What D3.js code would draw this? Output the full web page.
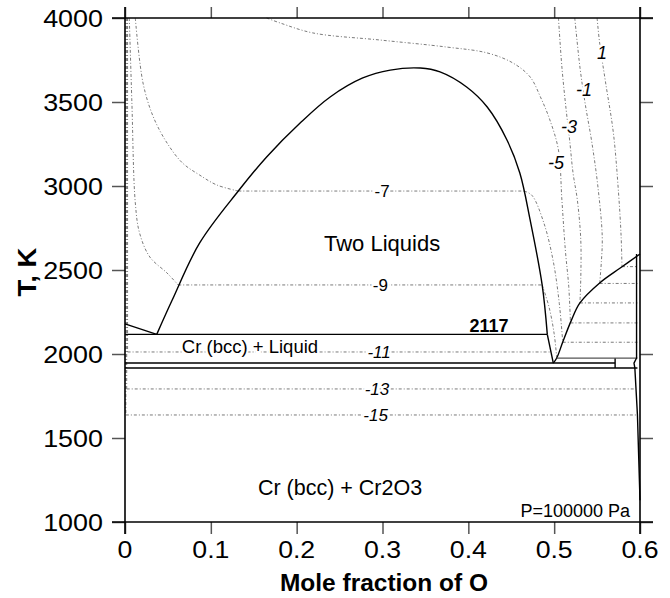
<!DOCTYPE html>
<html>
<head>
<meta charset="utf-8">
<script src="https://cdn.jsdelivr.net/npm/d3@7"></script>
<style>
  html, body { margin: 0; padding: 0; background: #fff; }
  svg { display: block; font-family: "Liberation Sans", Arial, Helvetica, sans-serif; }
</style>
</head>
<body>
<svg id="chart" width="670" height="598"></svg>
<script>
// ---- Axis ticks ----
const xTicks = [0, 0.1, 0.2, 0.3, 0.4, 0.5, 0.6];
const xTickLabels = ["0", "0.1", "0.2", "0.3", "0.4", "0.5", "0.6"];
const yTicks = [1000, 1500, 2000, 2500, 3000, 3500, 4000];
const yTickLabels = ["1000", "1500", "2000", "2500", "3000", "3500", "4000"];

// ---- Phase boundaries: [mole fraction O, T (K)] ----
const miscibilityGap = [
  [0.037, 2117], [0.055, 2321], [0.087, 2661], [0.132, 2970], [0.165, 3173],
  [0.204, 3375], [0.239, 3530], [0.277, 3643], [0.309, 3690], [0.344, 3702],
  [0.367, 3679], [0.398, 3589], [0.422, 3470], [0.445, 3274], [0.460, 3077],
  [0.472, 2798], [0.486, 2411], [0.492, 2117]
];
const gapTail = [[0.492, 2117], [0.499, 1946]];
const crLiquidus = [[0, 2179], [0.037, 2117]];
const oxideLiquidus = [
  [0.499, 1946], [0.503, 1976], [0.510, 2071], [0.520, 2200], [0.530, 2304],
  [0.553, 2423], [0.577, 2512], [0.600, 2595]
];
const monotectic = [[0, 2117], [0.492, 2117]];
const eutectic = [[0, 1946], [0.571, 1946]];
const eutectoid = [[0, 1917], [0.597, 1917]];
const cr3o4Line = [[0.571, 1917], [0.571, 1976]];
const peritectic = [[0.503, 1976], [0.597, 1976]];
const cr2o3Boundary = [
  [0.596, 2595], [0.596, 1976], [0.593, 1946], [0.594, 1917], [0.597, 1640], [0.600, 1130]
];

// ---- Oxygen isobars, log10(pO2), each as a list of pieces ----
const isobarP1 = [
  [[0.550, 4000], [0.553, 3851], [0.560, 3613], [0.569, 3315], [0.575, 2958], [0.578, 2700], [0.579, 2520]],
  [[0.579, 2520], [0.597, 2520]]
];
const isobarM1 = [
  [[0.524, 4000], [0.530, 3708], [0.536, 3494], [0.544, 3256], [0.551, 2994], [0.556, 2700], [0.555, 2550], [0.553, 2420]],
  [[0.553, 2420], [0.597, 2420]]
];
const isobarM3 = [
  [[0.505, 4000], [0.509, 3708], [0.514, 3452], [0.518, 3274], [0.522, 3077], [0.527, 2917], [0.531, 2679], [0.531, 2450], [0.530, 2304]],
  [[0.530, 2304], [0.597, 2304]]
];
const isobarM5 = [
  [[0.165, 4000], [0.181, 3970], [0.219, 3911], [0.297, 3869], [0.375, 3827], [0.422, 3792],
   [0.452, 3732], [0.472, 3649], [0.484, 3530], [0.495, 3393], [0.505, 3214], [0.509, 2917],
   [0.513, 2620], [0.517, 2400], [0.519, 2185]],
  [[0.519, 2185], [0.597, 2185]]
];
const isobarM7 = [
  [[0.012, 4000], [0.021, 3613], [0.033, 3411], [0.049, 3256], [0.067, 3137], [0.087, 3065], [0.107, 3006], [0.132, 2970]],
  [[0.132, 2970], [0.465, 2970]],
  [[0.465, 2970], [0.474, 2945], [0.488, 2780], [0.499, 2550], [0.506, 2300], [0.510, 2070]],
  [[0.510, 2070], [0.597, 2070]]
];
const isobarM9 = [
  [[0.005, 4000], [0.008, 3500], [0.012, 2900], [0.017, 2720], [0.029, 2577], [0.049, 2482], [0.062, 2411]],
  [[0.062, 2411], [0.486, 2411]],
  [[0.486, 2411], [0.494, 2280], [0.500, 2120], [0.503, 1976]]
];
const isobarM11 = [
  [[0.003, 4000], [0.003, 2012]],
  [[0.003, 2012], [0.496, 2012]]
];
const isobarM13 = [
  [[0.002, 4000], [0.002, 1792]],
  [[0.002, 1792], [0.595, 1792]]
];
const isobarM15 = [
  [[0.001, 4000], [0.001, 1637]],
  [[0.001, 1637], [0.597, 1637]]
];

// Isobar labels: value text and where it sits on its line
const isobarLabelsUpper = [
  { text: "1",  x: 0.5557, t: 3792 },
  { text: "-1", x: 0.5348, t: 3577 },
  { text: "-3", x: 0.5173, t: 3357 },
  { text: "-5", x: 0.5022, t: 3137 }
];
const isobarLabelsLower = [
  { text: "-7",  x: 0.2995, t: 2970 },
  { text: "-9",  x: 0.2975, t: 2411 },
  { text: "-11", x: 0.2960, t: 2012 },
  { text: "-13", x: 0.2935, t: 1792 },
  { text: "-15", x: 0.2920, t: 1637 }
];

// Region and annotation labels
const twoLiquidLabel = { text: "Two Liquids", x: 0.2995, t: 2613 };
const twoPhaseLabel = { text: "Cr (bcc) + Liquid", x: 0.1456, t: 2006 };
const lowerRegionLabel = { text: "Cr (bcc) + Cr2O3", x: 0.2505, t: 1160 };
const invariantLabel = { text: "2117", x: 0.424, t: 2131 };
const pressureLabel = { text: "P=100000 Pa", x: 0.5884, t: 1030 };

// ---- Drawing ----
const svg = d3.select("#chart");
const x = d3.scaleLinear().domain([0, 0.6]).range([125, 640]);
const y = d3.scaleLinear().domain([1000, 4000]).range([522, 18]);

const smooth = d3.line().x(d => x(d[0])).y(d => y(d[1])).curve(d3.curveCatmullRom.alpha(0.5));
const straight = d3.line().x(d => x(d[0])).y(d => y(d[1]));

const plot = svg.append("g");

// isobars (dotted grey)
const isobars = [isobarP1, isobarM1, isobarM3, isobarM5, isobarM7, isobarM9, isobarM11, isobarM13, isobarM15];
isobars.forEach(pieces => {
  pieces.forEach(p => {
    plot.append("path")
      .attr("d", p.length > 2 ? smooth(p) : straight(p))
      .attr("fill", "none")
      .attr("stroke", "#7a7a7a")
      .attr("stroke-width", 1)
      .attr("stroke-dasharray", "3,2,1,2");
  });
});

// phase boundaries (solid)
const solid = (pts, curve, color, w) => plot.append("path")
  .attr("d", curve ? smooth(pts) : straight(pts))
  .attr("fill", "none")
  .attr("stroke", color || "#000")
  .attr("stroke-width", w || 1.4)
  .attr("stroke-linejoin", "round");

solid(miscibilityGap, true);
solid(gapTail, false);
solid(crLiquidus, false);
solid(oxideLiquidus, true);
solid(monotectic, false);
solid(eutectic, false);
solid(eutectoid, false);
solid(cr3o4Line, false);
solid(peritectic, false, "#555", 1.2);
solid(cr2o3Boundary, false);

// isobar labels
const haloText = (g, d, size, italic) => g.append("text")
  .attr("x", x(d.x)).attr("y", y(d.t))
  .attr("dy", "0.36em")
  .attr("text-anchor", "middle")
  .attr("font-size", size)
  .attr("font-style", italic ? "italic" : "normal")
  .attr("fill", "#000")
  .attr("stroke", "#fff").attr("stroke-width", 4)
  .attr("paint-order", "stroke")
  .text(d.text);

isobarLabelsUpper.forEach(d => haloText(plot, d, 18, true));
isobarLabelsLower.forEach(d => haloText(plot, d, 17, !(d.text === "-7" || d.text === "-9")));

// region labels
plot.append("text")
  .attr("x", x(twoLiquidLabel.x)).attr("y", y(twoLiquidLabel.t))
  .attr("text-anchor", "middle").attr("font-size", 22)
  .text(twoLiquidLabel.text);

plot.append("text")
  .attr("x", x(twoPhaseLabel.x)).attr("y", y(twoPhaseLabel.t))
  .attr("text-anchor", "middle").attr("font-size", 18.5)
  .attr("stroke", "#fff").attr("stroke-width", 4).attr("paint-order", "stroke")
  .text(twoPhaseLabel.text);

plot.append("text")
  .attr("x", x(lowerRegionLabel.x)).attr("y", y(lowerRegionLabel.t))
  .attr("text-anchor", "middle").attr("font-size", 21.5)
  .text(lowerRegionLabel.text);

plot.append("text")
  .attr("x", x(invariantLabel.x)).attr("y", y(invariantLabel.t))
  .attr("text-anchor", "middle").attr("font-size", 18).attr("font-weight", "bold")
  .text(invariantLabel.text);

plot.append("text")
  .attr("x", x(pressureLabel.x)).attr("y", y(pressureLabel.t))
  .attr("text-anchor", "end").attr("font-size", 18)
  .text(pressureLabel.text);

// ---- Frame and ticks ----
const frame = svg.append("g");
const tickStyle = g => {
  g.select(".domain").remove();
  g.selectAll(".tick line").attr("stroke", "#555").attr("stroke-width", 1.5);
};
frame.append("g").attr("transform", "translate(0,522)")
  .call(d3.axisBottom(x).tickValues(xTicks).tickSize(12).tickFormat("")).call(tickStyle);
frame.append("g").attr("transform", "translate(0,18)")
  .call(d3.axisTop(x).tickValues(xTicks).tickSize(11).tickFormat("")).call(tickStyle);
frame.append("g").attr("transform", "translate(125,0)")
  .call(d3.axisLeft(y).tickValues(yTicks).tickSize(13).tickFormat("")).call(tickStyle);
frame.append("g").attr("transform", "translate(640,0)")
  .call(d3.axisRight(y).tickValues(yTicks).tickSize(13).tickFormat("")).call(tickStyle);

// axis lines extending past the corners
const x0 = x(0), x1 = x(0.6), yTop = y(4000), yBot = y(1000);
[[x0 - 13, yTop, x1 + 13, yTop], [x0 - 13, yBot, x1 + 13, yBot],
 [x0, yTop - 11, x0, yBot + 12], [x1, yTop - 11, x1, yBot + 12]].forEach(l => {
  frame.append("line")
    .attr("x1", l[0]).attr("y1", l[1]).attr("x2", l[2]).attr("y2", l[3])
    .attr("stroke", "#000").attr("stroke-width", 1.6);
});

// tick labels (wide sans)
xTicks.forEach((v, i) => {
  frame.append("text")
    .attr("transform", `translate(${x(v)},558) scale(1.16,1)`)
    .attr("text-anchor", "middle").attr("font-size", 23)
    .text(xTickLabels[i]);
});
yTicks.forEach((v, i) => {
  frame.append("text")
    .attr("transform", `translate(103,${y(v) + 9}) scale(1.17,1)`)
    .attr("text-anchor", "end").attr("font-size", 23)
    .text(yTickLabels[i]);
});

// axis titles
frame.append("text")
  .attr("transform", "translate(384,591) scale(1.02,1)")
  .attr("text-anchor", "middle").attr("font-size", 24).attr("font-weight", "bold")
  .text("Mole fraction of O");
frame.append("text")
  .attr("transform", "translate(36,272) rotate(-90) scale(1.1,1)")
  .attr("text-anchor", "middle").attr("font-size", 25).attr("font-weight", "bold")
  .text("T, K");
</script>
</body>
</html>
